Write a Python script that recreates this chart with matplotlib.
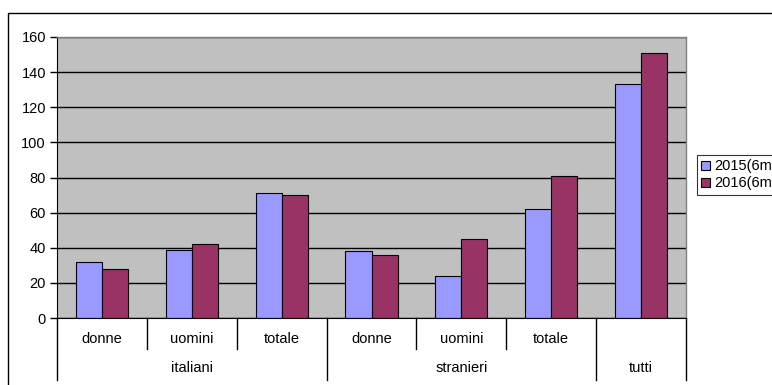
import numpy as np
import matplotlib
matplotlib.use('Agg')
from matplotlib import pyplot as plt
from matplotlib.patches import Rectangle
import matplotlib.transforms as mtransforms

plt.rcParams['font.family'] = ['Liberation Sans', 'DejaVu Sans']

# dati: persone per categoria, primi 6 mesi
sottocategorie = ['donne', 'uomini', 'totale', 'donne', 'uomini', 'totale', '']
gruppi = ['italiani', 'stranieri', 'tutti']
gruppi_span = [(0, 2), (3, 5), (6, 6)]
val_2015 = [32, 39, 71, 38, 24, 62, 133]
val_2016 = [28, 42, 70, 36, 45, 81, 151]
serie = ['2015(6m', '2016(6m']
yticks = [0, 20, 40, 60, 80, 100, 120, 140, 160]

fs = 10.5

fig = plt.figure(figsize=(7.72, 3.85), dpi=100)
# cornice esterna del grafico
fig.patches.append(Rectangle((8 / 772, -0.1), 1.2, 1.1 - 13 / 385,
                             transform=fig.transFigure, fill=False,
                             edgecolor='black', lw=1.0))

ax = fig.add_axes([57 / 772, 1 - 318 / 385, 629 / 772, 281 / 385])
ax.set_facecolor('#C0C0C0')

x = np.arange(len(val_2015))
w = 0.29
ax.bar(x - w / 2, val_2015, w, color='#9999FF', edgecolor='black', lw=0.8,
       label=serie[0], zorder=3)
ax.bar(x + w / 2, val_2016, w, color='#993366', edgecolor='black', lw=0.8,
       label=serie[1], zorder=3)

ax.set_xlim(-0.5, len(x) - 0.5)
ax.set_ylim(0, 160)
ax.set_yticks(yticks)
ax.tick_params(axis='y', length=5, width=1, labelsize=fs, pad=3, color='black')
ax.set_xticks([])
ax.grid(axis='y', color='black', lw=1, zorder=1)
ax.set_axisbelow(True)

for s in ['top', 'right']:
    ax.spines[s].set_color('#808080')
    ax.spines[s].set_linewidth(1)
ax.spines['left'].set_color('black')
ax.spines['bottom'].set_color('black')
ax.spines['bottom'].set_zorder(4)

# etichette dell'asse x a due livelli
trans = mtransforms.blended_transform_factory(ax.transData, ax.transAxes)
h_sub = 31 / 281
h_grp = 62 / 281
for i, lab in enumerate(sottocategorie):
    if lab:
        ax.text(i, -21 / 281, lab, transform=trans, ha='center', va='center',
                fontsize=fs)
for (a, b), lab in zip(gruppi_span, gruppi):
    ax.text((a + b) / 2, -50 / 281, lab, transform=trans, ha='center',
            va='center', fontsize=fs)

confini_gruppo = [-0.5, 2.5, 5.5, 6.5]
for xb in np.arange(-0.5, len(x), 1.0):
    h = h_grp if xb in confini_gruppo else h_sub
    ax.plot([xb, xb], [0, -h], transform=trans, color='black', lw=1,
            clip_on=False)

leg = ax.legend(loc='upper left',
                bbox_to_anchor=((697 - 57) / 629, (318 - 155) / 281),
                frameon=True, fancybox=False, edgecolor='black', fontsize=fs,
                handlelength=0.6, handleheight=0.6, handletextpad=0.25,
                borderpad=0.3, labelspacing=0.2, borderaxespad=0)
leg.get_frame().set_linewidth(0.8)

fig.savefig('out.png', dpi=100)
